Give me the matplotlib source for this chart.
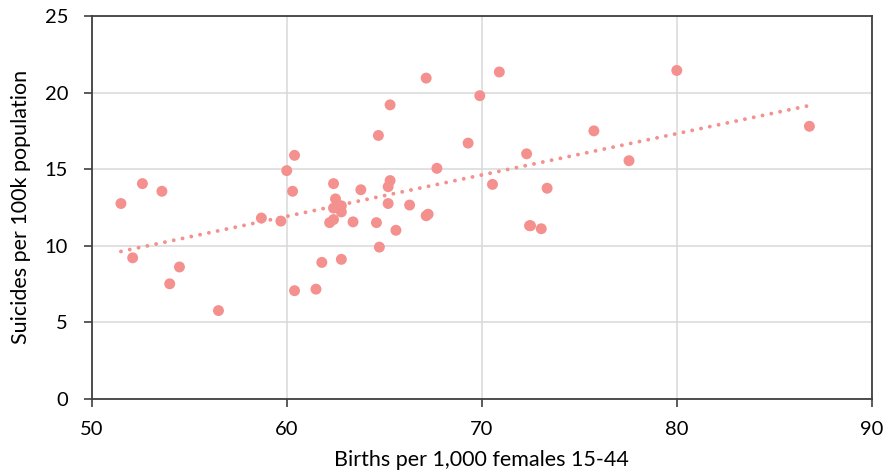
import numpy as np
import matplotlib
import matplotlib.pyplot as plt

matplotlib.use('Agg')

# births per 1,000 females 15-44 vs suicides per 100k
births = [51.5, 52.1, 52.6, 53.6, 54.0, 54.5, 56.5, 58.7, 59.7, 60.0,
          60.4, 60.3, 60.4, 61.5, 61.8, 62.8, 62.4, 62.5, 62.4, 62.8,
          62.8, 62.2, 62.4, 63.4, 63.8, 64.6, 64.7, 64.75, 67.15, 70.9,
          69.9, 65.3, 69.3, 72.3, 67.7, 65.3, 65.2, 70.55, 73.35, 65.2,
          66.3, 67.15, 67.25, 65.6, 72.45, 72.5, 73.05, 80.0, 75.75, 86.8,
          77.55]
suicides = [12.75, 9.2, 14.05, 13.55, 7.5, 8.6, 5.75, 11.8, 11.6, 14.9,
            15.9, 13.55, 7.05, 7.15, 8.9, 9.1, 14.05, 13.05, 12.45, 12.6,
            12.2, 11.5, 11.7, 11.55, 13.65, 11.5, 17.2, 9.9, 20.95, 21.35,
            19.8, 19.2, 16.7, 16.0, 15.05, 14.25, 13.85, 14.0, 13.75, 12.75,
            12.65, 11.95, 12.05, 11.0, 11.3, 11.3, 11.1, 21.45, 17.5, 17.8,
            15.55]

x_ticks = [50, 60, 70, 80, 90]
y_ticks = [0, 5, 10, 15, 20, 25]

color = '#F4908E'
plt.rcParams['font.family'] = ['Lato', 'DejaVu Sans']

fig = plt.figure(figsize=(8.86, 4.75), dpi=100)
ax = fig.add_axes([0.1035, 0.161, 0.8805, 0.805])

ax.scatter(births, suicides, s=62, color=color, edgecolors='none', zorder=3)

# linear trendline
x = np.array(births)
slope, intercept = np.polyfit(x, np.array(suicides), 1)
xs = np.array([x.min(), x.max()])
ax.plot(xs, slope * xs + intercept, color=color, lw=2.8,
        linestyle=(0, (0.01, 2.3)), dash_capstyle='round', zorder=2)

ax.set_xlim(50, 90)
ax.set_ylim(0, 25)
ax.set_xticks(x_ticks)
ax.set_yticks(y_ticks)
ax.grid(True, color='#d9d9d9', lw=1.1)
ax.set_axisbelow(True)

for sp in ax.spines.values():
    sp.set_color('#404040')
    sp.set_linewidth(1.3)

ax.tick_params(axis='both', direction='out', length=6, width=1.2,
               color='#404040', labelsize=14.5, labelcolor='black')
ax.tick_params(axis='y', pad=11)
ax.tick_params(axis='x', pad=10)

ax.set_xlabel('Births per 1,000 females 15-44', fontsize=15.5, labelpad=9)
ax.set_ylabel('Suicides per 100k population', fontsize=15.5, labelpad=10)

fig.savefig('out.png', dpi=100)
